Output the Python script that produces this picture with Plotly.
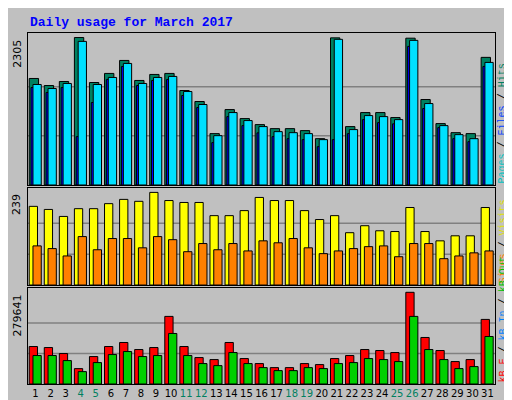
import plotly.graph_objects as go

days = list(range(1, 32))
weekend = [4, 5, 11, 12, 18, 19, 25, 26]

hits = [1665, 1555, 1618, 2305, 1602, 1744, 1947, 1634, 1728, 1744, 1477, 1305, 803, 1179, 1038, 944,
        881, 881, 850, 724, 2300, 913, 1132, 1132, 1054, 2295, 1336, 960, 818, 803, 1995]
files = [1571, 1508, 1587, 2245, 1571, 1681, 1900, 1587, 1681, 1697, 1461, 1258, 771, 1132, 1007, 913,
         834, 818, 803, 709, 2277, 866, 1085, 1069, 1022, 2261, 1273, 928, 787, 724, 1916]
pages = [1524, 1446, 1524, 756, 1289, 1650, 1853, 1555, 1634, 1650, 1399, 1211, 662, 1069, 928, 815,
         756, 724, 709, 599, 709, 803, 1022, 975, 956, 2167, 1195, 897, 724, 677, 1853]
visits = [203, 195, 177, 197, 197, 210, 221, 216, 239, 218, 213, 213, 179, 179, 192, 226,
          218, 218, 192, 169, 179, 135, 153, 140, 138, 200, 138, 114, 127, 127, 200]
sites = [101, 94, 75, 125, 91, 120, 120, 96, 125, 117, 86, 107, 91, 107, 88, 114,
         109, 120, 96, 81, 88, 94, 99, 101, 73, 107, 107, 68, 75, 83, 88]
kb_f = [114300, 111200, 92900, 46900, 83700, 114300, 126600, 105100, 111200, 206200, 114300, 80600,
        74500, 126600, 77600, 62300, 50000, 50000, 62300, 59200, 77600, 86800, 105100, 102100, 95900,
        279641, 141900, 102100, 68400, 74500, 197000]
kb_out = [86800, 86800, 71400, 37800, 65300, 89800, 99000, 83700, 86800, 154100, 86800, 62300,
          56100, 95900, 62300, 50000, 40800, 40800, 50000, 47000, 62300, 65300, 77600, 74500, 68400,
          206200, 105100, 74500, 47000, 53100, 144900]

fig = go.Figure()
line = dict(color="black", width=1)

def bars(y, color, offset, width, ax):
    fig.add_trace(go.Bar(x=days, y=y, marker=dict(color=color, line=line),
                         offset=offset, width=width, xaxis="x" + ax, yaxis="y" + ax))

bars(hits, "#008060", -0.42, 0.62, "")
bars(pages, "#0000ff", -0.3, 0.5, "")
bars(files, "#00e0ff", -0.17, 0.55, "")
bars(visits, "#ffff00", -0.42, 0.55, "2")
bars(sites, "#ff8000", -0.17, 0.55, "2")
bars(kb_f, "#ff0000", -0.42, 0.55, "3")
bars(kb_out, "#00d000", -0.17, 0.55, "3")

ticktext = ["<span style='color:#008060'>%d</span>" % d if d in weekend else str(d) for d in days]
xbase = dict(range=[0.5, 31.5], showline=True, linecolor="black", mirror=True,
             showgrid=False, zeroline=False, fixedrange=True, automargin=False)
ybase = dict(showline=True, linecolor="black", mirror=True, showgrid=False, automargin=False,
             zeroline=False, showticklabels=False, ticks="")

tops = [(max(hits), 2376, "y", [0.567, 1.0]),
        (max(visits), 250, "y2", [0.282, 0.558]),
        (max(kb_f), 292800, "y3", [0.0, 0.2735])]

layout = dict(
    width=512, height=400, margin=dict(l=20, r=25, t=25, b=24, pad=0),
    paper_bgcolor="#c0c0c0", plot_bgcolor="#c0c0c0", barmode="overlay",
    showlegend=False, font=dict(family="DejaVu Sans", size=11, color="black"),
    xaxis=dict(xbase, showticklabels=False, anchor="y"),
    xaxis2=dict(xbase, showticklabels=False, anchor="y2"),
    xaxis3=dict(xbase, tickvals=days, ticktext=ticktext, anchor="y3", ticks="",
                tickangle=0, tickfont=dict(size=10)),
)
shapes = []
annotations = [dict(text="<b>Daily usage for March 2017</b>", xref="paper", yref="paper",
                    x=0.0, y=1.03, xanchor="left", yanchor="middle", showarrow=False,
                    font=dict(family="Liberation Mono", size=13, color="#0000ff"))]
for i, (mx, rng, yname, dom) in enumerate(tops):
    key = "yaxis" if i == 0 else "yaxis%d" % (i + 1)
    xname = "x" if i == 0 else "x%d" % (i + 1)
    layout[key] = dict(ybase, range=[0, rng], domain=dom, anchor=xname)
    for f in (1 / 3, 2 / 3):
        shapes.append(dict(type="line", xref=xname + " domain", yref=yname, x0=0, x1=1,
                           y0=mx * f, y1=mx * f, line=dict(color="#808080", width=1.5), layer="below"))
    annotations.append(dict(text=str(mx), xref="paper", yref=yname, x=-0.005, y=mx,
                            xanchor="right", yanchor="top", textangle=-90, showarrow=False))

side = [("<span style='color:#00c0c0'>Pages</span> / <span style='color:#0040ff'>Files</span>"
         " / <span style='color:#008060'>Hits</span>", "y domain"),
        ("<span style='color:#ff8000'>Sites</span> / <span style='color:#e0e000'>Visits</span>", "y2 domain"),
        ("<span style='color:#ff0000'>kB F</span> / <span style='color:#0080ff'>kB In</span>"
         " / <span style='color:#00c000'>kB Out</span>", "y3 domain")]
for txt, yr in side:
    annotations.append(dict(text=txt, xref="paper", yref=yr, x=1.002, y=0.0,
                            xanchor="left", yanchor="bottom", textangle=-90, showarrow=False,
                            font=dict(family="Liberation Mono", size=10, color="black")))

layout["shapes"] = shapes
layout["annotations"] = annotations
fig.update_layout(**layout)
fig.write_html("out.html")
